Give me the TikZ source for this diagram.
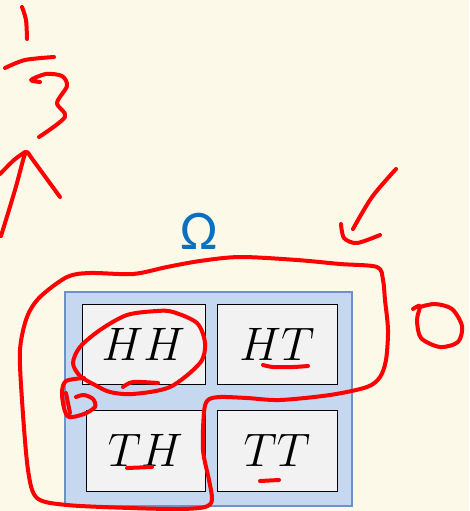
\RequirePackage{fix-cm}
\documentclass[tikz,border=0pt]{standalone}
\usepackage{fontspec}
\newfontfamily\omegafont{Carlito}
\definecolor{bg}{HTML}{FDF9E9}
\definecolor{spacefill}{HTML}{C6D8EF}
\definecolor{spaceedge}{HTML}{6D93C6}
\definecolor{cellgray}{HTML}{F2F2F2}
\definecolor{omegablue}{HTML}{0B70C0}
\begin{document}
\begin{tikzpicture}[x=1pt,y=-1pt,
  ink/.style={draw=red, line width=4pt, line cap=round, line join=round},
  spacebox/.style={draw=spaceedge, line width=1.2pt, fill=spacefill, inner sep=0pt},
  cell/.style={draw=black, line width=1pt, fill=cellgray, inner sep=0pt,
    font=\fontsize{47}{52}\selectfont}]
\path[fill=bg] (0,0) rectangle (469,511);
\useasboundingbox (0,0) rectangle (469,511);

\node[spacebox, minimum width=287pt, minimum height=214pt] (space) at (208.5,399) {};
\node[cell, minimum width=123pt, minimum height=80pt] (hh) at (143.5,344) {$HH$};
\node[cell, minimum width=120pt, minimum height=80pt] (ht) at (277,344) {$HT$};
\node[cell, minimum width=119pt, minimum height=81pt] (th) at (145.5,450.5) {$TH$};
\node[cell, minimum width=120pt, minimum height=81pt] (tt) at (277,450.5) {$TT$};
\node[inner sep=0pt, text=omegablue, font=\omegafont\fontsize{56}{60}\selectfont] (omega) at (199.5,231.5) {Ω};

% 1/3
\draw[ink] plot[smooth] coordinates {(22,7) (26,20) (27,39)};
\draw[ink] plot[smooth] coordinates {(5,68) (25,60) (54,57)};
\draw[ink] plot[smooth] coordinates {(40,82) (31,80) (46,74) (62,76) (67,86) (57,103) (65,117) (39,137)};
% arrow
\draw[ink] plot[smooth] coordinates {(1,236) (15,190) (24,157) (27,152) (33,160) (60,197)};
\draw[ink] plot[smooth] coordinates {(0,174) (14,160) (25,152)};
% check
\draw[ink] plot[smooth] coordinates {(396,169) (372,197) (353,229)};
\draw[ink] plot[smooth] coordinates {(341,224) (344,238) (357,243) (380,235)};
% zero
\draw[ink] plot[smooth] coordinates {(413,309) (420,306) (417,320) (421,338) (440,347) (458,342) (462,326) (452,309) (435,304) (420,307)};
% big loop
\draw[ink] plot[smooth cycle] coordinates {(240,257) (297,260) (340,264) (377,267) (383,280) (385,300) (388,330) (386,360) (380,377) (367,387) (330,395) (280,400) (247,398) (220,397) (208,400) (204,412) (203,450) (209,480) (212,500) (205,507) (180,509) (130,508) (67,505) (37,498) (28,470) (22,400) (20,350) (27,317) (40,297) (67,277) (90,273) (133,274) (167,267) (200,261)};
% HH loop
\draw[ink] plot[smooth cycle] coordinates {(157,311) (127,315) (100,330) (80,347) (73,363) (80,376) (95,385) (110,392) (133,394) (170,387) (200,363) (205,343) (197,323) (173,312)};
\draw[ink] plot[smooth] coordinates {(84,378) (66,381) (62,392) (64,408) (69,417) (84,414) (95,407) (93,399) (84,395) (76,397)};
\draw[ink] (66,393) -- (70,413);
% underlines
\draw[ink] plot[smooth] coordinates {(123,387) (133,382) (158,383)};
\draw[ink] plot[smooth] coordinates {(263,365) (273,367) (293,367) (308,366)};
\draw[ink] (127,468) -- (152,467);
\draw[ink] (260,481) -- (279,480);
\end{tikzpicture}
\end{document}
